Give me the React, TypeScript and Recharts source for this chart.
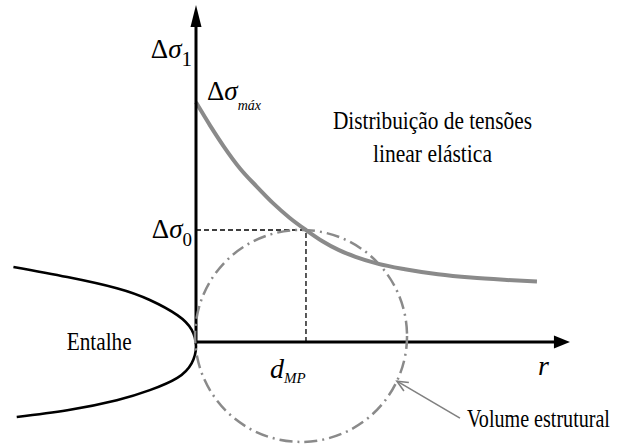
import { ComposedChart, Line, XAxis, YAxis, ReferenceLine, ReferenceDot } from 'recharts';

// r is measured from the notch root in units of d_MP, stress in units of Δσ0
const stressR = [0, 0.13, 0.25, 0.4, 0.55, 0.7, 0.85, 1.0, 1.15, 1.3, 1.45, 1.65, 1.9, 2.2, 2.5, 2.8, 3.1];
const stressValues = [2.14, 1.93, 1.75, 1.55, 1.39, 1.24, 1.11, 1.0, 0.9, 0.82, 0.76, 0.7, 0.65, 0.605, 0.575, 0.555, 0.54];

// notch contour, upper flank -> root -> lower flank
const notchR = [-1.66, -1.17, -0.72, -0.42, -0.17, -0.04, 0, -0.04, -0.17, -0.42, -0.72, -1.17, -1.63];
const notchS = [0.67, 0.58, 0.48, 0.375, 0.24, 0.11, -0.04, -0.19, -0.32, -0.43, -0.52, -0.61, -0.67];

const dMP = 1;
const sigma0 = 1;
const sigmaMax = stressValues[0];
const rAxisEnd = 3.4;
const sAxisEnd = 3.01;

// structural volume circle (centre) and its pointer
const volumeCentre = { r: 0.955, s: 0.054 };
const pointerTail = { r: 2.4, s: -0.68 };
const pointerTip = { r: 1.827, s: -0.35 };

const stressData = stressR.map((r, i) => ({ r, s: stressValues[i] }));
const notchData = notchR.map((r, i) => ({ r, s: notchS[i] }));

const SERIF = { fontFamily: "'Liberation Serif', 'Times New Roman', serif" };
const GREY = '#8a8a8a';

const AxisArrow = (props: any) => {
  const { x1, y1, x2, y2, len, half } = props;
  const dx = x2 - x1;
  const dy = y2 - y1;
  const d = Math.hypot(dx, dy);
  const ux = dx / d;
  const uy = dy / d;
  const bx = x2 - ux * len;
  const by = y2 - uy * len;
  return (
    <g>
      <line x1={x1 - ux * 1.5} y1={y1 - uy * 1.5} x2={bx + ux * 2} y2={by + uy * 2} stroke="#000" strokeWidth={3} />
      <polygon
        points={`${x2},${y2} ${bx - uy * half},${by + ux * half} ${bx + uy * half},${by - ux * half}`}
        fill="#000"
      />
    </g>
  );
};

const Pointer = (props: any) => {
  const { x1, y1, x2, y2 } = props;
  const a = Math.atan2(y1 - y2, x1 - x2);
  const L = 12;
  const w = 0.42;
  return (
    <g stroke="#808080" strokeWidth={1.6} fill="none">
      <line x1={x1} y1={y1} x2={x2} y2={y2} />
      <polyline
        points={`${x2 + L * Math.cos(a + w)},${y2 + L * Math.sin(a + w)} ${x2},${y2} ${x2 + L * Math.cos(a - w)},${y2 + L * Math.sin(a - w)}`}
      />
    </g>
  );
};

const DeltaSigma = ({ x, y, sub, anchor, subItalic, subSize }: any) => (
  <text x={x} y={y} style={SERIF} fontSize={27} fill="#000" textAnchor={anchor}>
    <tspan>Δ</tspan>
    <tspan fontStyle="italic">σ</tspan>
    <tspan fontSize={subSize} dy={subItalic ? 10 : 8} fontStyle={subItalic ? 'italic' : 'normal'}>
      {sub}
    </tspan>
  </text>
);

const PlainText = ({ x, y, text, width, anchor = 'start' }: any) => (
  <text
    x={x}
    y={y}
    style={SERIF}
    fontSize={25}
    fill="#000"
    textAnchor={anchor}
    textLength={width}
    lengthAdjust="spacingAndGlyphs"
  >
    {text}
  </text>
);

export default function App() {
  return (
    <div style={{ position: 'absolute', left: 0, top: 0, width: 620, height: 445, background: '#fff' }}>
      <ComposedChart width={620} height={445} margin={{ top: 0, right: 0, bottom: 0, left: 0 }}>
        <XAxis type="number" dataKey="r" domain={[-1.782, 3.855]} allowDataOverflow hide />
        <YAxis type="number" dataKey="s" domain={[-0.92, 3.054]} allowDataOverflow hide />

        {/* guide lines to the d_MP / Δσ0 intersection */}
        <ReferenceLine
          segment={[{ x: 0, y: sigma0 }, { x: dMP, y: sigma0 }]}
          stroke="#000"
          strokeWidth={1.3}
          strokeDasharray="5 3"
        />
        <ReferenceLine
          segment={[{ x: dMP, y: 0 }, { x: dMP, y: sigma0 }]}
          stroke="#000"
          strokeWidth={1.3}
          strokeDasharray="5 3"
        />

        <ReferenceDot
          x={volumeCentre.r}
          y={volumeCentre.s}
          r={106}
          fill="none"
          stroke={GREY}
          strokeWidth={2.5}
          strokeDasharray="13 5 2 5"
        />

        <Line
          data={notchData}
          dataKey="s"
          type="natural"
          stroke="#000"
          strokeWidth={2.6}
          dot={false}
          activeDot={false}
          legendType="none"
          isAnimationActive={false}
        />
        <Line
          data={stressData}
          dataKey="s"
          type="monotone"
          stroke={GREY}
          strokeWidth={4}
          dot={false}
          activeDot={false}
          legendType="none"
          isAnimationActive={false}
        />

        {/* axes */}
        <ReferenceLine
          segment={[{ x: 0, y: 0 }, { x: 0, y: sAxisEnd }]}
          shape={(p: any) => <AxisArrow {...p} len={22} half={5.5} />}
        />
        <ReferenceLine
          segment={[{ x: 0, y: 0 }, { x: rAxisEnd, y: 0 }]}
          shape={(p: any) => <AxisArrow {...p} len={16} half={6.5} />}
        />

        <ReferenceLine segment={[pointerTail, pointerTip].map((p) => ({ x: p.r, y: p.s }))} shape={Pointer} />

        {/* labels */}
        <ReferenceDot
          x={0}
          y={2.536}
          r={0}
          shape={(p: any) => <DeltaSigma x={p.cx - 4} y={p.cy} sub="1" anchor="end" subSize={21} />}
        />
        <ReferenceDot
          x={0}
          y={sigma0}
          r={0}
          shape={(p: any) => <DeltaSigma x={p.cx - 4} y={p.cy + 8} sub="0" anchor="end" subSize={19} />}
        />
        <ReferenceDot
          x={0}
          y={sigmaMax}
          r={0}
          shape={(p: any) => (
            <DeltaSigma x={p.cx + 11} y={p.cy - 2} sub="máx" anchor="start" subItalic subSize={14} />
          )}
        />
        <ReferenceDot
          x={dMP}
          y={0}
          r={0}
          shape={(p: any) => (
            <text x={p.cx - 36} y={p.cy + 36} style={SERIF} fontSize={28} fontStyle="italic" fill="#000">
              <tspan>d</tspan>
              <tspan fontSize={15} dy={5}>MP</tspan>
            </text>
          )}
        />
        <ReferenceDot
          x={rAxisEnd}
          y={0}
          r={0}
          shape={(p: any) => (
            <text x={p.cx - 32} y={p.cy + 33} style={SERIF} fontSize={28} fontStyle="italic" fill="#000">
              r
            </text>
          )}
        />
        <ReferenceDot
          x={-0.88}
          y={0}
          r={0}
          shape={(p: any) => <PlainText x={p.cx} y={p.cy + 8} text="Entalhe" width={65} anchor="middle" />}
        />
        <ReferenceDot
          x={2.15}
          y={1.9}
          r={0}
          shape={(p: any) => (
            <g>
              <PlainText x={p.cx} y={p.cy} text="Distribuição de tensões" width={199} anchor="middle" />
              <PlainText x={p.cx} y={p.cy + 33} text="linear elástica" width={119} anchor="middle" />
            </g>
          )}
        />
        <ReferenceDot
          x={pointerTail.r}
          y={pointerTail.s}
          r={0}
          shape={(p: any) => <PlainText x={p.cx + 7} y={p.cy + 9} text="Volume estrutural" width={143} />}
        />
      </ComposedChart>
    </div>
  );
}
